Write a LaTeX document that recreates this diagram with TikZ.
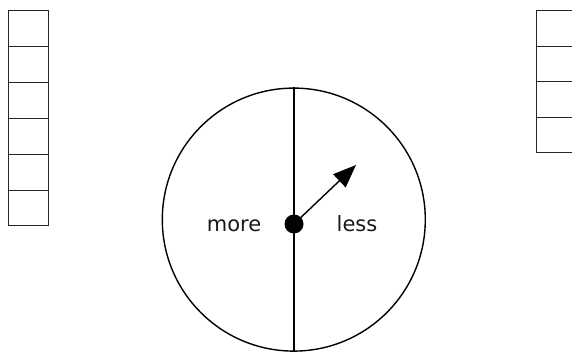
\documentclass[tikz,border=0pt]{standalone}
\usepackage{fontspec}
\setmainfont{DejaVu Sans}
\usetikzlibrary{arrows.meta}
\begin{document}
\begin{tikzpicture}[x=1pt,y=-1pt,
  cellbox/.style={draw=black!85,line width=1pt},
  lbl/.style={font=\fontsize{21}{24}\selectfont,inner sep=0pt,text=black!90,anchor=base}]
\useasboundingbox (0,0) rectangle (572,352);
\clip (0,0) rectangle (572,352);
% left stack of cells
\foreach \i in {0,...,5}{
  \draw[cellbox] (8,{11+\i*35.83}) rectangle (48,{11+(\i+1)*35.83});
}
% right stack of cells
\foreach \i in {0,...,3}{
  \draw[cellbox] (536,{11+\i*35.5}) rectangle (580,{11+(\i+1)*35.5});
}
% dial
\node[circle,draw,line width=1.4pt,minimum size=263pt,inner sep=0pt] (dial) at (293.8,219.6) {};
\draw[line width=1.4pt] (dial.north) -- (dial.south);
\node[circle,fill=black,minimum size=19pt,inner sep=0pt] (hub) at (294,224) {};
\coordinate (tip) at (356,165);
\draw[line width=1.4pt,-{Triangle[length=23pt,width=18pt]}] (hub.center) -- (tip);
\node[lbl] (more) at (234,232) {more};
\node[lbl] (less) at (357,232) {less};
\end{tikzpicture}
\end{document}
